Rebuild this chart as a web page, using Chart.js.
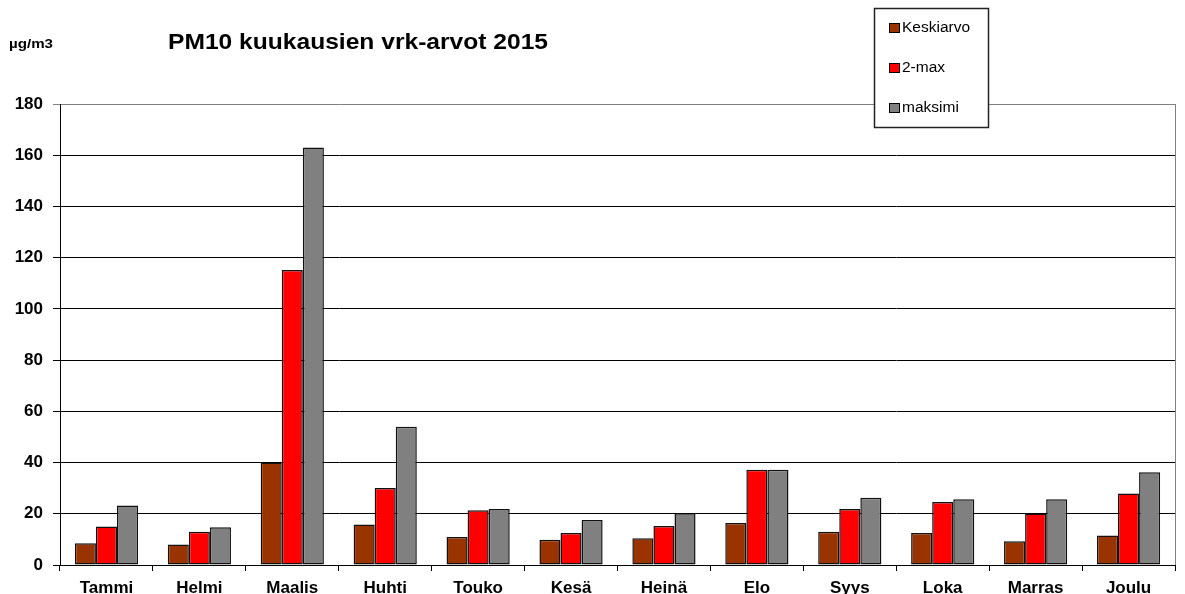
<!DOCTYPE html>
<html>
<head>
<meta charset="utf-8">
<script src="https://cdn.jsdelivr.net/npm/chart.js@4.4.1/dist/chart.umd.min.js"></script>
<style>
  html, body { margin: 0; padding: 0; background: #fff; }
  #wrap { width: 1185px; height: 594px; position: relative; }
</style>
</head>
<body>
<div id="wrap"><canvas id="kaavio"></canvas></div>
<script>
// Kuukaudet ja arvot (µg/m3)
const kuukaudet = ['Tammi', 'Helmi', 'Maalis', 'Huhti', 'Touko', 'Kesä', 'Heinä', 'Elo', 'Syys', 'Loka', 'Marras', 'Joulu'];
const keskiarvo = [8.5, 8.0, 40.0, 15.8, 10.9, 9.9, 10.4, 16.4, 13.0, 12.5, 9.3, 11.5];
const toinenMax = [15.0, 13.0, 115.2, 30.1, 21.4, 12.5, 15.2, 37.2, 21.9, 24.6, 20.1, 27.9];
const maksimi = [23.2, 14.7, 163.0, 54.0, 21.9, 17.6, 20.2, 37.2, 26.3, 25.7, 25.7, 36.2];
const yTikit = [0, 20, 40, 60, 80, 100, 120, 140, 160, 180];

const otsikko = 'PM10 kuukausien vrk-arvot 2015';
const yksikko = 'µg/m3';

// piirtää tekstin venyttäen sen haluttuun leveyteen
function venytaTeksti(ctx, teksti, x, y, leveys) {
    const w = ctx.measureText(teksti).width;
    ctx.save();
    ctx.translate(x, y);
    ctx.scale(leveys / w, 1);
    ctx.fillText(teksti, 0, 0);
    ctx.restore();
}

// Otsikko, yksikkö, selite ja kehys piirretään itse
const omaPiirto = {
    id: 'omaPiirto',
    afterDraw(chart) {
        const ctx = chart.ctx;
        const ca = chart.chartArea;
        ctx.save();

        // oikea reuna harmaalla
        ctx.strokeStyle = '#808080';
        ctx.lineWidth = 1;
        ctx.beginPath();
        ctx.moveTo(Math.round(ca.right) + 0.5, ca.top);
        ctx.lineTo(Math.round(ca.right) + 0.5, ca.bottom);
        ctx.stroke();

        ctx.fillStyle = '#000';
        ctx.textBaseline = 'alphabetic';
        ctx.textAlign = 'left';
        ctx.font = 'bold 22px "Liberation Sans", Arial, sans-serif';
        venytaTeksti(ctx, otsikko, 168, 49, 380);

        ctx.font = 'bold 13px "Liberation Sans", Arial, sans-serif';
        venytaTeksti(ctx, yksikko, 9, 48, 44);

        // selite
        const lx = 874, ly = 8, lw = 114, lh = 119;
        ctx.fillStyle = '#fff';
        ctx.fillRect(lx, ly, lw, lh);
        ctx.strokeStyle = '#222';
        ctx.lineWidth = 1.5;
        ctx.strokeRect(lx + 0.5, ly + 0.5, lw, lh);

        ctx.font = '15.5px "Liberation Sans", Arial, sans-serif';
        ctx.textBaseline = 'middle';
        chart.data.datasets.forEach(function (ds, i) {
            const y = 28 + i * 40;
            ctx.fillStyle = ds.backgroundColor;
            ctx.fillRect(889, y - 4, 10, 9);
            ctx.strokeStyle = '#000';
            ctx.lineWidth = 1;
            ctx.strokeRect(889.5, y - 4.5, 10, 9);
            ctx.fillStyle = '#000';
            ctx.fillText(ds.label, 902, y);
        });
        ctx.restore();
    }
};

const pohja = {
    borderColor: '#111',
    borderWidth: 1.5,
    borderSkipped: false
};

new Chart(document.getElementById('kaavio'), {
    type: 'bar',
    data: {
        labels: kuukaudet,
        datasets: [
            Object.assign({ label: 'Keskiarvo', data: keskiarvo, backgroundColor: '#993300' }, pohja),
            Object.assign({ label: '2-max', data: toinenMax, backgroundColor: '#ff0000' }, pohja),
            Object.assign({ label: 'maksimi', data: maksimi, backgroundColor: '#808080' }, pohja)
        ]
    },
    options: {
        responsive: true,
        maintainAspectRatio: false,
        animation: false,
        devicePixelRatio: 1,
        layout: { padding: { left: 0, right: 10, top: 104, bottom: 0 } },
        plugins: {
            legend: { display: false },
            title: { display: false },
            tooltip: { enabled: false }
        },
        datasets: {
            bar: { categoryPercentage: 0.68, barPercentage: 1.0 }
        },
        scales: {
            x: {
                offset: true,
                grid: {
                    offset: true,
                    drawOnChartArea: false,
                    drawTicks: true,
                    tickLength: 6,
                    color: '#000'
                },
                border: { display: true, color: '#000', width: 1 },
                ticks: {
                    color: '#000',
                    padding: 7,
                    maxRotation: 0,
                    font: { family: '"Liberation Sans", Arial, sans-serif', size: 17, weight: 'bold' }
                },
                afterFit: function (scale) { scale.height = 29; }
            },
            y: {
                min: 0,
                max: 180,
                afterBuildTicks: function (scale) {
                    scale.ticks = yTikit.map(function (v) { return { value: v }; });
                },
                grid: {
                    color: function (c) { return c.tick && c.tick.value === 180 ? '#808080' : '#000'; },
                    lineWidth: 1,
                    tickLength: 7,
                    drawTicks: true
                },
                border: { display: true, color: '#000', width: 1 },
                ticks: {
                    color: '#000',
                    padding: 10,
                    font: { family: '"Liberation Sans", Arial, sans-serif', size: 17, weight: 'bold' }
                },
                afterFit: function (scale) { scale.width = 60; }
            }
        }
    },
    plugins: [omaPiirto]
});
</script>
</body>
</html>
